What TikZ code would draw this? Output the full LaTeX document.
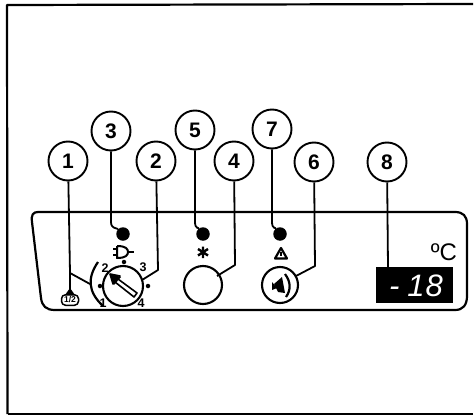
\documentclass[tikz,border=0pt]{standalone}
\usepackage{fontspec}
\setmainfont{Liberation Sans}
\tikzset{
  callout/.style={draw,circle,line width=1.9pt,minimum size=39pt,inner sep=0pt,font=\fontsize{21}{21}\selectfont\bfseries},
  lamp/.style={circle,fill=black,minimum size=13.5pt,inner sep=0pt},
  knob/.style={draw,circle,line width=2.1pt,inner sep=0pt},
  dialnum/.style={inner sep=0pt,font=\fontsize{12.5}{13}\selectfont\bfseries},
  tick/.style={circle,fill=black,minimum size=4.5pt,inner sep=0pt},
  wire/.style={line width=1.8pt}
}
\begin{document}
\begin{tikzpicture}[x=1pt,y=-1pt,line join=round]
            \useasboundingbox (0,0) rectangle (474,415);
            % Outer frame
            \draw[line width=2.2pt] (7.5,414) -- (7,5) -- (473,4);
            \draw[line width=2.2pt] (473,414) -- (7.5,414);
            % Panel
            \draw[line width=2.2pt] (38,212) -- (455,212) .. controls (463,212) and (467,216) .. (467,224)
                -- (467,296) .. controls (467,305) and (463,310) .. (455,310)
                -- (55,310) .. controls (46,310) and (42,306) .. (41,298)
                -- (32,222) .. controls (31,215) and (33,212) .. (38,212);
            % Callouts
            \node[callout] (c1) at (68,161) {1};
            \node[callout] (c3) at (111,131) {3};
            \node[callout] (c2) at (156,161) {2};
            \node[callout] (c5) at (195,130) {5};
            \node[callout] (c4) at (234,161) {4};
            \node[callout] (c7) at (272,129) {7};
            \node[callout] (c6) at (314,162) {6};
            \node[callout] (c8) at (387,162) {8};
            % Lamps
            \node[lamp] (lamp3) at (123,234) {};
            \node[lamp] (lamp5) at (203,234) {};
            \node[lamp] (lamp7) at (280,234) {};
            % Dial
            \node[knob,minimum size=40pt] (dial) at (123,286) {};
            \node[tick] (tick1) at (100,286) {};
            \node[tick] (tick2) at (124,262) {};
            \node[tick] (tick3) at (148,286) {};
            \node[dialnum] (n2) at (105,268) {2};
            \node[dialnum] (n3) at (143,267) {3};
            \node[dialnum] (n1) at (103,303) {1};
            \node[dialnum] (n4) at (141,303) {4};
            \draw[line width=2.2pt] (98,262) .. controls (87,278) and (88,292) .. (103,306);
            \draw[line width=1.6pt,fill=white] (137,293) -- (118,279) -- (120,276) -- (110,274) -- (113,284) -- (115,282) -- (134,297) -- cycle;
            \fill (110,274) -- (121,277) -- (114,285) -- cycle;
            % Buttons
            \node[knob,minimum size=38pt] (btn4) at (203,285) {};
            \node[knob,minimum size=36pt] (btn6) at (280,285) {};
            \fill (274,284) -- (282,277) -- (285,293) -- (278,292) -- cycle;
            \fill (272,282) -- (277,288) -- (272,290) -- cycle;
            \draw[line width=2.2pt] (285,274) .. controls (291,282) and (291,290) .. (286,297);
            % Badge
            \node[draw,rounded corners=4pt,line width=1.5pt,inner sep=1pt,minimum width=17pt,minimum height=10.5pt,font=\fontsize{8.5}{8.5}\selectfont\bfseries] (half) at (70,300) {1/2};
            \coordinate (branch) at (70,273);
            \fill (65,295) -- (70,288) -- (75,295) -- cycle;
            % Icons
            \draw[line width=2pt] (117,246) -- (117,258) .. controls (126,258) and (128,255) .. (128,252) .. controls (128,249) and (126,246) .. (117,246);
            \draw[line width=1.7pt] (113,249) -- (117,249) (113,255) -- (117,255) (128,252) -- (134,252);
            \draw[line width=2.4pt] (203,246.5) -- (203,258) (198,249) -- (208,255.5) (198,255.5) -- (208,249);
            \draw[line width=2.2pt] (275,258.5) -- (281,248) -- (287,258.5) -- cycle;
            \draw[line width=1.6pt] (281,251.5) -- (281,255.5);
            % Display
            \node[fill=black,minimum width=77pt,minimum height=36pt,inner sep=0pt] (display) at (414.5,285) {};
            \node[text=white,inner sep=0pt,font=\fontsize{31}{31}\selectfont\itshape] (reading) at (416,286) {-\hspace{8pt}1\hspace{1pt}8};
            \node[inner sep=0pt,font=\fontsize{24}{24}\selectfont] (unit) at (444,252) {ºC};
            % Leaders
            \draw[wire] (c1) -- (branch) -- (70,290);
            \draw[wire] (branch) -- (90,284);
            \draw[wire] (c3) -- (111,222) .. controls (111,229) and (117,228) .. (lamp3);
            \draw[wire] (c2) -- (158,270) -- (142,280);
            \draw[wire] (c5) -- (195,222) .. controls (195,229) and (199,228) .. (lamp5);
            \draw[wire] (c4) -- (235,265) -- (217,276);
            \draw[wire] (c7) -- (272,222) .. controls (272,229) and (276,228) .. (lamp7);
            \draw[wire] (c6) -- (315,266) -- (296,276);
            \draw[wire] (c8) -- (388,267);
\end{tikzpicture}
\end{document}
